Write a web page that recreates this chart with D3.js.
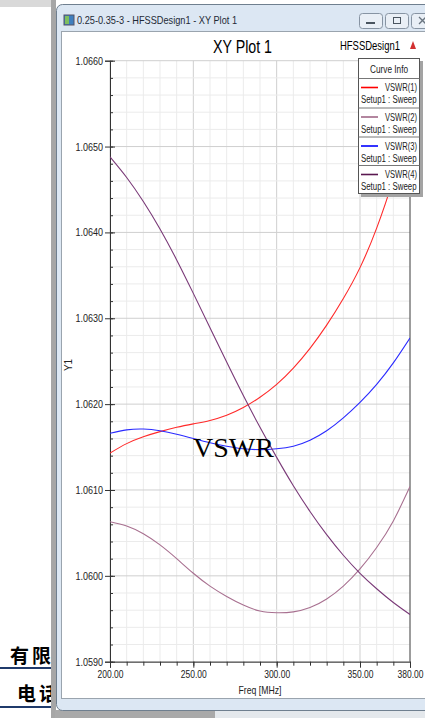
<!DOCTYPE html>
<html>
<head>
<meta charset="utf-8">
<script src="https://cdn.jsdelivr.net/npm/d3@7"></script>
<style>
  body { margin: 0; background: #fff; }
  svg { display: block; }
  .lbl { font-family: "Liberation Sans", Arial, sans-serif; }
</style>
</head>
<body>
<div id="chart"></div>
<script>
// values
var freq = [200, 210, 220, 230, 240, 250, 260, 270, 280, 290, 300, 310, 320, 330, 340, 350, 360, 370, 380];
var vswr1 = [1.06143, 1.06154, 1.06162, 1.06168, 1.06173, 1.06177, 1.06181, 1.06187, 1.06196, 1.06208, 1.06223, 1.06242, 1.06265, 1.06292, 1.06323, 1.06359, 1.06405, 1.06462, 1.06528];
var vswr2 = [1.06063, 1.06058, 1.06049, 1.06036, 1.06020, 1.06003, 1.05988, 1.05976, 1.05966, 1.05959, 1.05957, 1.05958, 1.05963, 1.05973, 1.05988, 1.06008, 1.06033, 1.06064, 1.06104];
var vswr3 = [1.06166, 1.06170, 1.06171, 1.06169, 1.06165, 1.06160, 1.06155, 1.06151, 1.06148, 1.06147, 1.06148, 1.06151, 1.06158, 1.06169, 1.06184, 1.06202, 1.06223, 1.06248, 1.06277];
var vswr4 = [1.06488, 1.06464, 1.06436, 1.06404, 1.06368, 1.06329, 1.06289, 1.06249, 1.06210, 1.06173, 1.06138, 1.06105, 1.06075, 1.06048, 1.06024, 1.06003, 1.05985, 1.05969, 1.05955];
var seriesNames = ["VSWR(1)", "VSWR(2)", "VSWR(3)", "VSWR(4)"];
var xTickLabels = [200, 250, 300, 350, 380];
var yTickLabels = [1.0590, 1.0600, 1.0610, 1.0620, 1.0630, 1.0640, 1.0650, 1.0660];

var lineColors = ["#ff2a2a", "#a87090", "#2a2aff", "#7a3a78"];
var legendColors = ["#ff0000", "#a06888", "#0000ff", "#5a1850"];

var W = 425, H = 718;
var svg = d3.select("#chart").append("svg").attr("width", W).attr("height", H);

// squeeze text to the width it has in the screenshot (HFSS uses a narrow font)
function fit(sel, len) {
    sel.attr("textLength", len).attr("lengthAdjust", "spacingAndGlyphs");
    return sel;
}

// --- background document on the left
svg.append("rect").attr("x", 0).attr("y", 0).attr("width", 52).attr("height", 7).attr("fill", "#d9d9d9");
svg.append("text").attr("x", 10).attr("y", 663)
    .style("font-family", "'Noto Sans CJK SC'").style("font-weight", "bold").style("font-size", "19px")
    .style("letter-spacing", "3px")
    .text("有限");
svg.append("rect").attr("x", 0).attr("y", 667).attr("width", 52).attr("height", 2).attr("fill", "#1f3a6b");
svg.append("text").attr("x", 17).attr("y", 701)
    .style("font-family", "'Noto Sans CJK SC'").style("font-weight", "bold").style("font-size", "19px")
    .style("letter-spacing", "3px")
    .text("电话");
svg.append("rect").attr("x", 0).attr("y", 706).attr("width", 52).attr("height", 2).attr("fill", "#1f3a6b");

// --- window frame
svg.append("rect").attr("x", 51).attr("y", 0).attr("width", 5).attr("height", H).attr("fill", "#a6a6a6");
svg.append("rect").attr("x", 55).attr("y", 710).attr("width", 160).attr("height", 8).attr("fill", "#a9a9a9");
svg.append("rect").attr("x", 215).attr("y", 710).attr("width", 210).attr("height", 8).attr("fill", "#e4e8ec");
svg.append("rect").attr("x", 56.5).attr("y", 4.5).attr("width", 380).attr("height", 706)
    .attr("rx", 6).attr("fill", "#dce7f3").attr("stroke", "#6f7f8f");
svg.append("rect").attr("x", 64).attr("y", 15).attr("width", 10).attr("height", 10)
    .attr("fill", "#3f7fbf").attr("stroke", "#556");
svg.append("rect").attr("x", 65).attr("y", 16).attr("width", 4).attr("height", 8).attr("fill", "#7fbf5f");
fit(svg.append("text").attr("class", "lbl").attr("x", 77).attr("y", 24)
    .style("font-size", "11.5px").attr("fill", "#1e2a36")
    .text("0.25-0.35-3 - HFSSDesign1 - XY Plot 1"), 160);

var btnX = [359, 385, 411];
btnX.forEach(function (bx, i) {
    svg.append("rect").attr("x", bx + 0.5).attr("y", 13.5).attr("width", 23).attr("height", 15)
        .attr("rx", 3).attr("fill", "#e9eff6").attr("stroke", "#8794a3");
    if (i == 0) {
        svg.append("rect").attr("x", bx + 7).attr("y", 22).attr("width", 9).attr("height", 2).attr("fill", "#4a5560");
    } else if (i == 1) {
        svg.append("rect").attr("x", bx + 8.5).attr("y", 17.5).attr("width", 7).attr("height", 6)
            .attr("fill", "none").attr("stroke", "#4a5560");
    } else {
        svg.append("path").attr("d", "M" + (bx + 8) + ",17 l7,7 M" + (bx + 15) + ",17 l-7,7")
            .attr("stroke", "#6a7580").attr("stroke-width", 1.3);
    }
});

svg.append("rect").attr("x", 61.5).attr("y", 31.5).attr("width", 370).attr("height", 667)
    .attr("fill", "#fff").attr("stroke", "#9aa4ae");

// --- plot
var x = d3.scaleLinear().domain([200, 380]).range([110, 410]);
var y = d3.scaleLinear().domain([1.0590, 1.0660]).range([661.7, 60.7]);

var xMinor = d3.range(200, 381, 10);
var yMinor = d3.range(0, 36).map(function (i) { return 1.0590 + i * 0.0002; });

var grid = svg.append("g");
grid.selectAll(".vx").data(xMinor).enter().append("line")
    .attr("x1", function (d) { return x(d); }).attr("x2", function (d) { return x(d); })
    .attr("y1", y(1.0660)).attr("y2", y(1.0590))
    .attr("stroke", function (d) { return d % 50 == 0 ? "#cfcfcf" : "#ebebeb"; });
grid.selectAll(".hy").data(yMinor).enter().append("line")
    .attr("x1", x(200)).attr("x2", x(380))
    .attr("y1", function (d) { return y(d); }).attr("y2", function (d) { return y(d); })
    .attr("stroke", function (d, i) { return i % 5 == 0 ? "#cfcfcf" : "#ebebeb"; });

// right border
svg.append("line").attr("x1", x(380)).attr("x2", x(380)).attr("y1", y(1.0660)).attr("y2", y(1.0590))
    .attr("stroke", "#444");

// y axis: labels + outward major ticks
var yAxis = svg.append("g").attr("class", "lbl").attr("transform", "translate(" + x(200) + ",0)")
    .call(d3.axisLeft(y).tickValues(yTickLabels).tickSize(5).tickPadding(2).tickFormat(d3.format(".4f")));
fit(yAxis.selectAll("text").style("font-size", "11px").attr("fill", "#222"), 27.5);
yAxis.select(".domain").attr("stroke", "#333");
yAxis.selectAll(".tick line").attr("stroke", "#333");
svg.append("g").attr("transform", "translate(" + x(200) + ",0)")
    .call(d3.axisRight(y).tickValues(yMinor).tickSize(3).tickFormat(""))
    .call(function (g) { g.select(".domain").remove(); g.selectAll("line").attr("stroke", "#333"); });
svg.append("g").attr("transform", "translate(" + x(200) + ",0)")
    .call(d3.axisRight(y).tickValues(yTickLabels).tickSize(5).tickFormat(""))
    .call(function (g) { g.select(".domain").remove(); g.selectAll("line").attr("stroke", "#333"); });

// x axis
var xAxis = svg.append("g").attr("class", "lbl").attr("transform", "translate(0," + y(1.0590) + ")")
    .call(d3.axisBottom(x).tickValues(xTickLabels).tickSize(6).tickPadding(3).tickFormat(d3.format(".2f")));
fit(xAxis.selectAll("text").style("font-size", "11px").attr("fill", "#222"), 26);
xAxis.select(".domain").attr("stroke", "#333");
xAxis.selectAll(".tick line").attr("stroke", "#333");
svg.append("g").attr("transform", "translate(0," + y(1.0590) + ")")
    .call(d3.axisBottom(x).tickValues(xMinor).tickSize(4).tickFormat(""))
    .call(function (g) { g.select(".domain").remove(); g.selectAll("line").attr("stroke", "#333"); });

fit(svg.append("text").attr("class", "lbl").attr("x", 260).attr("y", 694).attr("text-anchor", "middle")
    .style("font-size", "11px").attr("fill", "#222").text("Freq [MHz]"), 43);
svg.append("text").attr("class", "lbl").attr("transform", "translate(72,365) rotate(-90)")
    .attr("text-anchor", "middle").style("font-size", "10px").attr("fill", "#222").text("Y1");

// titles
fit(svg.append("text").attr("class", "lbl").attr("x", 242.5).attr("y", 53).attr("text-anchor", "middle")
    .style("font-size", "18px").attr("fill", "#000").text("XY Plot 1"), 59);
fit(svg.append("text").attr("class", "lbl").attr("x", 370).attr("y", 50).attr("text-anchor", "middle")
    .style("font-size", "12px").attr("fill", "#000").text("HFSSDesign1"), 60);
svg.append("path").attr("d", "M413,41 l-3,8 h6 z").attr("fill", "#d23030");

// curves
svg.append("clipPath").attr("id", "clip").append("rect")
    .attr("x", x(200)).attr("y", y(1.0660)).attr("width", x(380) - x(200)).attr("height", y(1.0590) - y(1.0660));

var allSeries = [vswr1, vswr2, vswr3, vswr4];
var line = d3.line()
    .x(function (d, i) { return x(freq[i]); })
    .y(function (d) { return y(d); })
    .curve(d3.curveNatural);

svg.append("g").attr("clip-path", "url(#clip)")
    .selectAll("path").data(allSeries).enter().append("path")
    .attr("d", line)
    .attr("fill", "none")
    .attr("stroke", function (d, i) { return lineColors[i]; })
    .attr("stroke-width", 1.1);

// annotation
svg.append("text").attr("x", 193).attr("y", 457)
    .style("font-family", "'Liberation Serif', 'Times New Roman', serif").style("font-size", "28px")
    .attr("fill", "#000").text("VSWR");

// legend
var lg = svg.append("g").attr("class", "lbl");
lg.append("rect").attr("x", 361).attr("y", 61).attr("width", 62).attr("height", 136).attr("fill", "#a3a3a3");
lg.append("rect").attr("x", 358.5).attr("y", 58.5).attr("width", 61).attr("height", 135)
    .attr("fill", "#fff").attr("stroke", "#555");
fit(lg.append("text").attr("x", 389).attr("y", 73).attr("text-anchor", "middle")
    .style("font-size", "10px").attr("fill", "#222").text("Curve Info"), 38);
var rowTop = [78, 107.5, 136.5, 165];
lg.selectAll(".sep").data(rowTop).enter().append("line")
    .attr("x1", 358.5).attr("x2", 419.5)
    .attr("y1", function (d) { return d + 0.5; }).attr("y2", function (d) { return d + 0.5; })
    .attr("stroke", "#777");
seriesNames.forEach(function (name, i) {
    var t = rowTop[i];
    lg.append("line").attr("x1", 361).attr("x2", 378).attr("y1", t + 9.5).attr("y2", t + 9.5)
        .attr("stroke", legendColors[i]).attr("stroke-width", 1.6);
    fit(lg.append("text").attr("x", 417).attr("y", t + 13).attr("text-anchor", "end")
        .style("font-size", "10.5px").attr("fill", "#222").text(name), 32);
    fit(lg.append("text").attr("x", 361).attr("y", t + 25).style("font-size", "10px")
        .attr("fill", "#222").text("Setup1 : Sweep"), 55.5);
});
</script>
</body>
</html>
